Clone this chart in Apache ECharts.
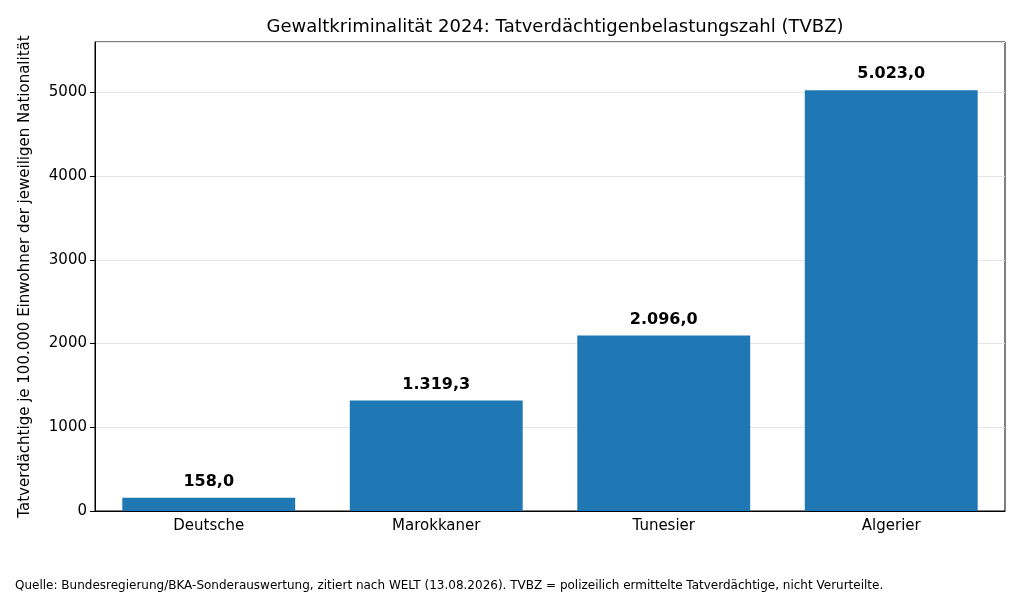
<!DOCTYPE html>
<html><head><meta charset="utf-8">
<script src="https://cdn.jsdelivr.net/npm/echarts@6/dist/echarts.min.js"></script>
<style>html,body{margin:0;padding:0;background:#fff}#c{width:1024px;height:594px}</style>
</head><body><div id="c"></div>
<script>
const categories = ['Deutsche', 'Marokkaner', 'Tunesier', 'Algerier']
const tvbz = [158.0, 1319.3, 2096.0, 5023.0]
const yTicks = [0, 1000, 2000, 3000, 4000, 5000]

const fmt = v => v.toFixed(1).replace('.', ',').replace(/\B(?=(\d{3})+(?!\d))/g, '.')
const chart = echarts.init(document.getElementById('c'))
const font = 'DejaVu Sans'
chart.setOption({
  animation: false,
  textStyle: { fontFamily: font },
  title: [{
    text: 'Gewaltkriminalität 2024: Tatverdächtigenbelastungszahl (TVBZ)',
    left: 550, top: 13, textAlign: 'center',
    textStyle: { fontFamily: font, fontSize: 18, fontWeight: 'normal', color: '#000' }
  }, {
    text: 'Quelle: Bundesregierung/BKA-Sonderauswertung, zitiert nach WELT (13.08.2026). TVBZ = polizeilich ermittelte Tatverdächtige, nicht Verurteilte.',
    left: 10, top: 575,
    textStyle: { fontFamily: font, fontSize: 12, fontWeight: 'normal', color: '#000' }
  }],
  grid: { left: 95, right: 19, top: 42, bottom: 83, show: true, borderColor: '#000', borderWidth: 1 },
  xAxis: {
    type: 'category', data: categories,
    axisLine: { lineStyle: { color: '#000' } },
    axisTick: { alignWithLabel: true, length: 5, lineStyle: { color: '#000' } },
    axisLabel: { color: '#000', fontSize: 15, margin: 8, fontFamily: font }
  },
  yAxis: {
    type: 'value', min: 0, max: 5600, interval: 1000,
    name: 'Tatverdächtige je 100.000 Einwohner der jeweiligen Nationalität',
    nameLocation: 'middle', nameGap: 62,
    nameTextStyle: { color: '#000', fontSize: 15, fontFamily: font },
    axisLine: { show: true, lineStyle: { color: '#000' } },
    axisTick: { show: true, length: 5, lineStyle: { color: '#000' } },
    axisLabel: { color: '#000', fontSize: 15, fontFamily: font, showMaxLabel: false,
      formatter: v => yTicks.includes(v) ? String(v) : '' },
    splitLine: { lineStyle: { color: '#e6e6e6', width: 1 } }
  },
  series: [{
    type: 'bar', data: tvbz, barWidth: '76%',
    itemStyle: { color: '#1f77b4' },
    label: { show: true, position: 'top', distance: 8, color: '#000', fontSize: 16, fontWeight: 'bold',
      fontFamily: font, formatter: p => fmt(p.value) }
  }]
})
</script></body></html>
